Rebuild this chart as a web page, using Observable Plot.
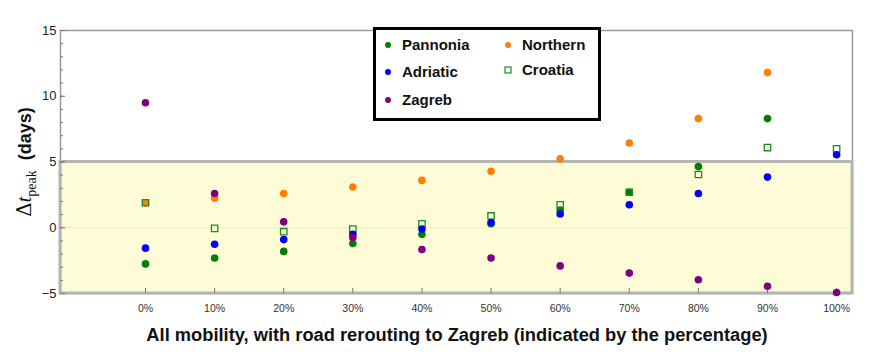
<!DOCTYPE html>
<html><head><meta charset="utf-8">
<script src="https://cdn.jsdelivr.net/npm/d3@7"></script>
<script src="https://cdn.jsdelivr.net/npm/@observablehq/plot@0.6"></script>
<style>body{margin:0;background:#fff;} #chart{width:872px;height:363px;}</style>
</head><body><div id="chart"></div>
<script>
// rerouting share (%)
const rerouting = [0, 10, 20, 30, 40, 50, 60, 70, 80, 90, 100];
// Δt_peak (days) per region; null = outside the shown range
const pannonia = [-2.75, -2.3, -1.8, -1.2, -0.5, 0.3, 1.35, 2.7, 4.65, 8.3, null];
const adriatic = [-1.55, -1.25, -0.9, -0.5, -0.1, 0.4, 1.05, 1.75, 2.6, 3.85, 5.55];
const zagreb   = [9.5, 2.6, 0.45, -0.75, -1.65, -2.3, -2.9, -3.45, -3.95, -4.45, -4.92];
const northern = [1.9, 2.25, 2.6, 3.1, 3.6, 4.3, 5.25, 6.45, 8.3, 11.8, null];
const croatia  = [1.9, -0.05, -0.3, -0.1, 0.3, 0.9, 1.75, 2.7, 4.05, 6.1, 6.0];

const seriesNames = ["Pannonia", "Adriatic", "Zagreb", "Northern", "Croatia"];
const seriesColors = ["#007f00", "#0000ff", "#800080", "#ff8000", "#1f8a1f"];
const yMajorTicks = [-5, 0, 5, 10, 15];
const yMinorTicks = d3.range(-5, 16, 1);
const band = [-5, 5];
const xDomain = [-12.3, 102.3];
const yDomain = [-5, 15];

const toRows = (vals) => rerouting.map((x, i) => ({x, y: vals[i]})).filter(d => d.y != null);

const chart = Plot.plot({
  width: 872, height: 363,
  marginLeft: 60, marginRight: 20, marginTop: 30, marginBottom: 70,
  x: {domain: xDomain},
  y: {domain: yDomain},
  style: {fontFamily: "'Liberation Sans', Arial, sans-serif", background: "white", overflow: "visible"},
  marks: [
    Plot.rect([{y1: band[0], y2: band[1]}], {x1: () => xDomain[0], x2: () => xDomain[1], y1: "y1", y2: "y2", fill: "#fefcd6"}),
    Plot.ruleY([0], {stroke: "#eee9bd", strokeWidth: 1}),
    Plot.frame({stroke: "#9a9a9a", strokeWidth: 1.5}),
    Plot.rect([{y1: band[0], y2: band[1]}], {x1: () => xDomain[0], x2: () => xDomain[1], y1: "y1", y2: "y2", fill: "none", stroke: "#b4b4b4", strokeWidth: 3}),
    Plot.axisY({ticks: yMinorTicks, tickSize: -3, text: null, stroke: "#777"}),
    Plot.axisY({ticks: yMajorTicks, tickSize: -5, tickPadding: 9, fontSize: 13, label: null, stroke: "#777", fill: "#222"}),
    Plot.axisX({ticks: rerouting, tickFormat: d => d + "%", tickSize: -5, tickPadding: 16, fontSize: 10.5, label: null, stroke: "#777", fill: "#333"}),
    Plot.dot(toRows(pannonia), {x: "x", y: "y", r: 3.8, fill: seriesColors[0]}),
    Plot.dot(toRows(northern), {x: "x", y: "y", r: 3.8, fill: seriesColors[3]}),
    Plot.dot(toRows(croatia), {x: "x", y: "y", r: 3.6, symbol: "square", fill: "none", stroke: seriesColors[4], strokeWidth: 1.3}),
    Plot.dot(toRows(adriatic), {x: "x", y: "y", r: 3.8, fill: seriesColors[1]}),
    Plot.dot(toRows(zagreb), {x: "x", y: "y", r: 3.8, fill: seriesColors[2]})
  ]
});
document.getElementById("chart").appendChild(chart);

const svg = d3.select(chart);
// axis labels
svg.append("text")
  .attr("x", 457).attr("y", 341).attr("text-anchor", "middle")
  .style("font", "bold 18.3px 'Liberation Sans', Arial, sans-serif").attr("fill", "#111")
  .text("All mobility, with road rerouting to Zagreb (indicated by the percentage)");

const yl = svg.append("text")
  .attr("transform", "translate(31,162) rotate(-90)").attr("text-anchor", "middle").attr("fill", "#111");
yl.append("tspan").style("font", "20px 'DejaVu Serif', 'Liberation Serif', serif").text("Δ");
yl.append("tspan").style("font", "italic 20px 'Liberation Serif', serif").text("t");
yl.append("tspan").attr("dy", 5).style("font", "14px 'Liberation Serif', serif").text("peak");
yl.append("tspan").attr("dy", -5).attr("dx", 10).style("font", "bold 18px 'Liberation Sans', Arial, sans-serif").text("(days)");

// legend
const lg = svg.append("g").attr("text-anchor", "start");
lg.append("rect").attr("x", 374.5).attr("y", 28.5).attr("width", 225).attr("height", 91)
  .attr("fill", "white").attr("stroke", "black").attr("stroke-width", 3);
const legendPos = [[388, 45], [388, 72], [388, 100], [508, 45], [508, 70]];
seriesNames.forEach((name, i) => {
  const [lx, ly] = legendPos[i];
  if (name === "Croatia") {
    lg.append("rect").attr("x", lx - 3).attr("y", ly - 3).attr("width", 6).attr("height", 6)
      .attr("fill", "none").attr("stroke", seriesColors[i]).attr("stroke-width", 1.2);
  } else {
    lg.append("circle").attr("cx", lx).attr("cy", ly).attr("r", 3).attr("fill", seriesColors[i]);
  }
  lg.append("text").attr("x", lx + 14).attr("y", ly + 5).attr("text-anchor", "start")
    .style("font", "bold 15px 'Liberation Sans', Arial, sans-serif").attr("fill", "#111").text(name);
});
</script>
</body></html>
